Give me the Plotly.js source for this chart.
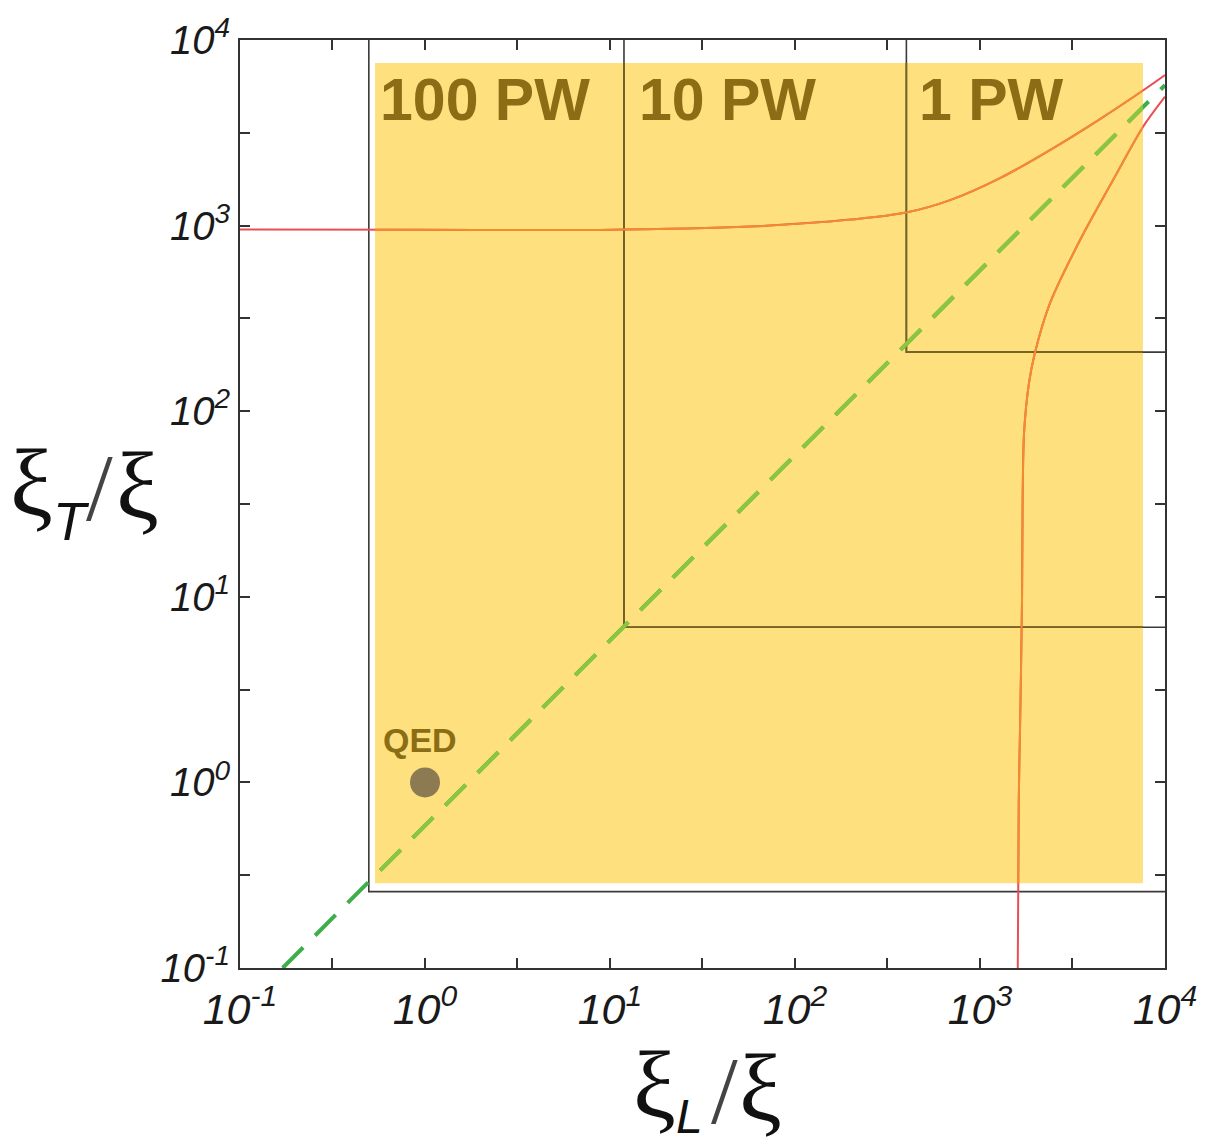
<!DOCTYPE html>
<html><head><meta charset="utf-8">
<script src="https://cdn.plot.ly/plotly-3.0.1.min.js"></script>
<style>html,body{margin:0;padding:0;background:#fff}</style>
</head><body><div id="chart" style="width:1210px;height:1145px"></div>
<script>
// ---- data ----
const upperX = [0.1, 1, 8.8, 57, 198, 398, 689, 1283, 2388, 4454, 7328, 10000];
const upperY = [952, 950, 948, 988, 1077, 1175, 1372, 1803, 2553, 3750, 5212, 6475];
const lowerX = [1600, 1620, 1650, 1687, 1700, 1730, 1840, 1980, 2390, 3475, 5240, 7600, 10000];
const lowerY = [0.1, 0.8, 2.24, 9.6, 33, 76, 142, 206, 382, 836, 1760, 3400, 4950];
const diagX = [0.17, 10000];
const diagY = [0.1, 5715];
const cornerX = [0.497, 11.9, 400];
const cornerY = [0.258, 6.86, 208];
const cornerLabels = ['100 PW', '10 PW', '1 PW'];
const qedX = [1];
const qedY = [1];
const qedLabel = 'QED';
const yellowX = [0.537, 7600];
const yellowY = [0.286, 7520];
const tickVals = [0.1, 0.3162, 1, 3.162, 10, 31.62, 100, 316.2, 1000, 3162, 10000];
const tickText = ['10<sup>-1</sup>', '', '10<sup>0</sup>', '', '10<sup>1</sup>', '', '10<sup>2</sup>', '', '10<sup>3</sup>', '', '10<sup>4</sup>'];
const axisMin = 0.1, axisMax = 10000;

// ---- styles ----
const ML = 240, MR = 45, MT = 40, MB = 177, W = 1210, H = 1145;
const PW = W - ML - MR, PH = H - MT - MB;
function P(px, py) { return { x: (px - ML) / PW, y: (H - MB - py) / PH }; }
const lmin = Math.log10(axisMin), lmax = Math.log10(axisMax);
const dom = v => (Math.log10(v) - lmin) / (lmax - lmin);

const outside = { red: '#EA4E54', green: '#3DAE4B', black: '#3a3a3a' };
const inside = { red: '#F28C2E', green: '#8CC63F', black: '#7A6422' };

function curves(axX, axY, c) {
  const tr = [];
  cornerX.forEach((cx, i) => {
    tr.push({ x: [axisMax, cx, cx], y: [cornerY[i], cornerY[i], axisMax], mode: 'lines',
      line: { color: c.black, width: 1.6 }, xaxis: axX, yaxis: axY, hoverinfo: 'skip' });
  });
  tr.push({ x: diagX, y: diagY, mode: 'lines', line: { color: c.green, width: 4, dash: '29px,17px' },
    xaxis: axX, yaxis: axY, hoverinfo: 'skip' });
  tr.push({ x: upperX, y: upperY, mode: 'lines', line: { color: c.red, width: 2, shape: 'spline', smoothing: 1 },
    xaxis: axX, yaxis: axY, hoverinfo: 'skip' });
  tr.push({ x: lowerX, y: lowerY, mode: 'lines', line: { color: c.red, width: 2, shape: 'spline', smoothing: 0.8 },
    xaxis: axX, yaxis: axY, hoverinfo: 'skip' });
  return tr;
}

const data = curves('x', 'y', outside).concat(curves('x2', 'y2', inside));
data.push({ x: qedX, y: qedY, mode: 'markers', marker: { size: 30, color: '#8C7A52' },
  xaxis: 'x2', yaxis: 'y2', hoverinfo: 'skip' });

const axBase = {
  type: 'log', range: [lmin, lmax], showgrid: false, zeroline: false,
  showline: true, linecolor: '#333', linewidth: 2, mirror: 'allticks',
  ticks: 'inside', ticklen: 10, tickwidth: 2, tickcolor: '#333',
  tickmode: 'array', tickvals: tickVals, ticktext: tickText.map(t => t ? '<i>' + t + '</i>' : ''),
};
const hidden = { type: 'log', showgrid: false, zeroline: false, showline: false, ticks: '', showticklabels: false, fixedrange: true };

const labelColor = '#8A6D14';
const ann = [];
const labelPx = [378, 637, 917];
cornerLabels.forEach((t, i) => {
  const p = P(labelPx[i], 100);
  ann.push({ xref: 'paper', yref: 'paper', x: p.x, y: p.y, xanchor: 'left', yanchor: 'middle', showarrow: false,
    text: '<b>' + t + '</b>', font: { family: 'Liberation Sans, Arial, sans-serif', size: 59, color: labelColor } });
});
{ const p = P(381, 740);
  ann.push({ xref: 'paper', yref: 'paper', x: p.x, y: p.y, xanchor: 'left', yanchor: 'middle', showarrow: false,
    text: '<b>' + qedLabel + '</b>', font: { family: 'Liberation Sans, Arial, sans-serif', size: 34, color: labelColor } }); }

function titlePart(txt, px, py, fam, size, color, yanchor) {
  const p = P(px, py);
  ann.push({ xref: 'paper', yref: 'paper', x: p.x, y: p.y, xanchor: 'center', yanchor: yanchor || 'middle', showarrow: false,
    text: txt, font: { family: fam, size: size, color: color || '#111' } });
}
const serif = 'Liberation Serif, DejaVu Serif, serif';
const sans = 'Liberation Sans, Arial, sans-serif';
// y title  ξ_T / ξ
titlePart('ξ', 31, 482, serif, 96);
titlePart('<i>T</i>', 71, 521, sans, 54);
titlePart('/', 99, 487, serif, 96, '#444');
titlePart('ξ', 137, 485, serif, 96);
// x title  ξ_L / ξ
titlePart('ξ', 654, 1084, serif, 96);
titlePart('<i>L</i>', 689, 1145, sans, 48, null, 'bottom');
titlePart('/', 724, 1090, serif, 96, '#444');
titlePart('ξ', 760, 1087, serif, 96);

const layout = {
  width: W, height: H, margin: { l: ML, r: MR, t: MT, b: MB, pad: 0 },
  paper_bgcolor: '#fff', plot_bgcolor: 'rgba(0,0,0,0)', showlegend: false, hovermode: false,
  font: { family: sans, color: '#1a1a1a' },
  xaxis: Object.assign({}, axBase, { tickfont: { family: sans, size: 43, color: '#1a1a1a' }, ticklabelstandoff: 2, domain: [0, 1], anchor: 'y' }),
  yaxis: Object.assign({}, axBase, { tickfont: { family: sans, size: 40, color: '#1a1a1a' }, ticklabelstandoff: 0, domain: [0, 1], anchor: 'x' }),
  xaxis2: Object.assign({}, hidden, { domain: [dom(yellowX[0]), dom(yellowX[1])], range: [Math.log10(yellowX[0]), Math.log10(yellowX[1])], anchor: 'y2' }),
  yaxis2: Object.assign({}, hidden, { domain: [dom(yellowY[0]), dom(yellowY[1])], range: [Math.log10(yellowY[0]), Math.log10(yellowY[1])], anchor: 'x2' }),
  shapes: [{ type: 'rect', xref: 'x2 domain', yref: 'y2 domain', x0: 0, x1: 1, y0: 0, y1: 1,
    fillcolor: '#FEE07E', line: { width: 0 }, layer: 'below' }],
  annotations: ann,
};
Plotly.newPlot('chart', data, layout, { displayModeBar: false, staticPlot: true });
</script></body></html>
